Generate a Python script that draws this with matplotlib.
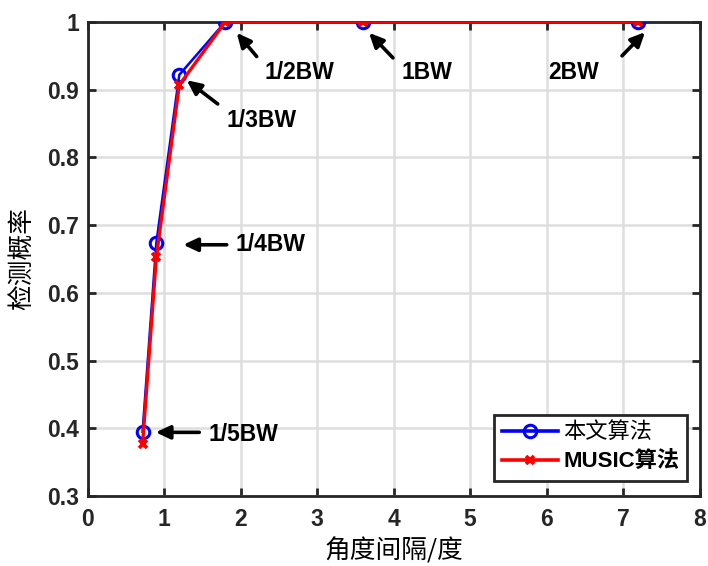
import matplotlib
matplotlib.use("Agg")
import matplotlib.pyplot as plt

x_vals = [0.72, 0.9, 1.2, 1.8, 3.6, 7.2]
prop_vals = [0.395, 0.674, 0.922, 1.0, 1.0, 1.0]
music_vals = [0.377, 0.653, 0.907, 1.0, 1.0, 1.0]
labels = ["1/5BW", "1/4BW", "1/3BW", "1/2BW", "1BW", "2BW"]
xticks = [0, 1, 2, 3, 4, 5, 6, 7, 8]
yticks = [0.3, 0.4, 0.5, 0.6, 0.7, 0.8, 0.9, 1.0]
ytick_labels = ["0.3", "0.4", "0.5", "0.6", "0.7", "0.8", "0.9", "1"]

cjk = ["Noto Sans CJK SC", "DejaVu Sans"]
latin_bold = ["Liberation Sans", "DejaVu Sans"]

fig = plt.figure(figsize=(7.08, 5.66), dpi=100)
ax = fig.add_axes([87.5 / 708, 70 / 566, 612 / 708, 474 / 566])

ax.plot(x_vals, prop_vals, color="blue", lw=1.8, marker="o", ms=9,
        mfc="none", mec="blue", mew=2.2, label="本文算法", zorder=3)
ax.plot(x_vals, music_vals, color="red", lw=2.4, marker="x", ms=6,
        mec="red", mew=2.6, label="MUSIC算法", zorder=4)

ax.set_xlim(0, 8)
ax.set_ylim(0.3, 1.0)
ax.set_xticks(xticks)
ax.set_yticks(yticks)
ax.set_yticklabels(ytick_labels)
for t in ax.get_xticklabels() + ax.get_yticklabels():
    t.set_fontfamily(latin_bold)
    t.set_fontweight("bold")
    t.set_fontsize(16.5)

ax.grid(True, color="#dedede", lw=1.8)
ax.set_axisbelow(True)
ax.tick_params(direction="in", length=6, width=2, top=True, right=True,
               colors="#262626", labelcolor="#262626")
ax.tick_params(axis="x", pad=9)
ax.tick_params(axis="y", pad=6)
for s in ax.spines.values():
    s.set_linewidth(2)
    s.set_color("#262626")

ax.set_xlabel("角度间隔/度", family=cjk, fontsize=18.5, labelpad=5)
ax.set_ylabel("检测概率", family=cjk, fontsize=18.5, labelpad=9)

# (label index, text position, arrow tail, arrow head) in data coordinates
ann = [
    (0, (1.579, 0.391), (1.461, 0.394), (0.892, 0.394)),
    (1, (1.937, 0.671), (1.820, 0.671), (1.252, 0.671)),
    (2, (1.820, 0.855), (1.702, 0.879), (1.297, 0.914)),
    (3, (2.320, 0.926), (2.212, 0.949), (1.950, 0.984)),
    (4, (4.111, 0.926), (3.993, 0.947), (3.680, 0.984)),
    (5, (6.020, 0.926), (6.987, 0.950), (7.288, 0.985)),
]
for i, txy, tail, head in ann:
    ax.annotate("", xy=head, xytext=tail,
                arrowprops=dict(arrowstyle="-|>,head_length=0.85,head_width=0.4",
                                color="black", lw=2.6, shrinkA=0, shrinkB=0),
                zorder=6)
    ax.text(txy[0], txy[1], labels[i], family=latin_bold, fontweight="bold",
            fontsize=16.5, va="center", ha="left", zorder=6)

leg = ax.legend(loc="lower right", prop={"family": ["Liberation Sans", "Noto Sans CJK SC"], "size": 16},
                frameon=True, fancybox=False, edgecolor="#262626", framealpha=1,
                borderpad=0.35, handlelength=2.5, handletextpad=0.25, labelspacing=0.4,
                borderaxespad=0, bbox_to_anchor=(0.9796, 0.0316))
leg.get_frame().set_linewidth(2)
leg.get_texts()[1].set_fontweight("bold")
for h in leg.get_lines():
    h.set_linewidth(2.6)

fig.savefig("out.png", dpi=100)
